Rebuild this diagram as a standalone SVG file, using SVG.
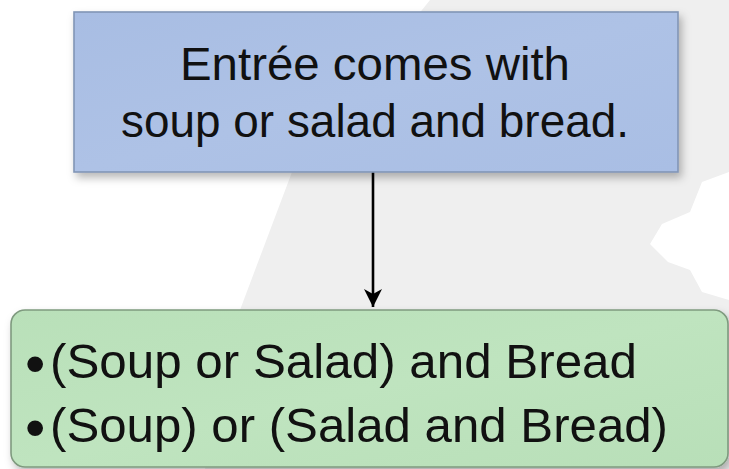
<svg xmlns="http://www.w3.org/2000/svg" width="729" height="469" viewBox="0 0 729 469">
  <defs>
    <style>
      .txt { font-family: "Liberation Sans", Arial, sans-serif; fill: #111111; }
      .big { font-size: 47px; }
      .mid { font-size: 49px; }
      .bul { font-size: 58px; }
      .conn { stroke: #000000; stroke-width: 2.6; fill: none; }
    </style>
    <filter id="shadow" x="-10%" y="-10%" width="125%" height="130%">
      <feDropShadow dx="3" dy="5" stdDeviation="4" flood-color="#000000" flood-opacity="0.28"/>
    </filter>
    <linearGradient id="blueFill" x1="0" y1="0" x2="1" y2="1">
      <stop offset="0" stop-color="#a8bde3"/>
      <stop offset="0.5" stop-color="#aec2e6"/>
      <stop offset="1" stop-color="#a9bee4"/>
    </linearGradient>
    <linearGradient id="greenFill" x1="0" y1="0" x2="1" y2="1">
      <stop offset="0" stop-color="#b9e0b9"/>
      <stop offset="0.5" stop-color="#bfe4bf"/>
      <stop offset="1" stop-color="#b8dfb8"/>
    </linearGradient>
    <marker id="arrow" viewBox="0 0 20 20" refX="18" refY="10" markerWidth="20" markerHeight="20" markerUnits="userSpaceOnUse" orient="auto">
      <path d="M0,1 L18,10 L0,19 L5,10 Z" fill="#000000"/>
    </marker>
  </defs>

  <rect x="0" y="0" width="729" height="469" fill="#ffffff"/>
  <polygon points="430,0 729,0 729,172 702,182 690,212 662,224 650,244 668,262 690,270 702,292 729,300 729,469 205,469 240,310 292,172" fill="#efefef"/>

  <g id="connectors">
    <line class="conn" x1="373" y1="172" x2="373" y2="307" marker-end="url(#arrow)"/>
  </g>

  <g id="node-statement">
    <rect x="74" y="12" width="604" height="160" fill="url(#blueFill)" stroke="#8195b6" stroke-width="1.6" filter="url(#shadow)"/>
    <text class="txt big" x="375" y="80" text-anchor="middle" textLength="390" lengthAdjust="spacingAndGlyphs">Entrée comes with</text>
    <text class="txt big" x="375" y="137" text-anchor="middle" textLength="508" lengthAdjust="spacingAndGlyphs">soup or salad and bread.</text>
  </g>

  <g id="node-interpretations">
    <rect x="11" y="310" width="717" height="157" rx="14" ry="14" fill="url(#greenFill)" stroke="#7f9a7f" stroke-width="1.6" filter="url(#shadow)"/>
    <text class="txt mid"><tspan class="bul" x="25" y="383">•</tspan><tspan x="50" y="378" textLength="587" lengthAdjust="spacingAndGlyphs">(Soup or Salad) and Bread</tspan></text>
    <text class="txt mid"><tspan class="bul" x="25" y="447">•</tspan><tspan x="50" y="442" textLength="618" lengthAdjust="spacingAndGlyphs">(Soup) or (Salad and Bread)</tspan></text>
  </g>
</svg>
